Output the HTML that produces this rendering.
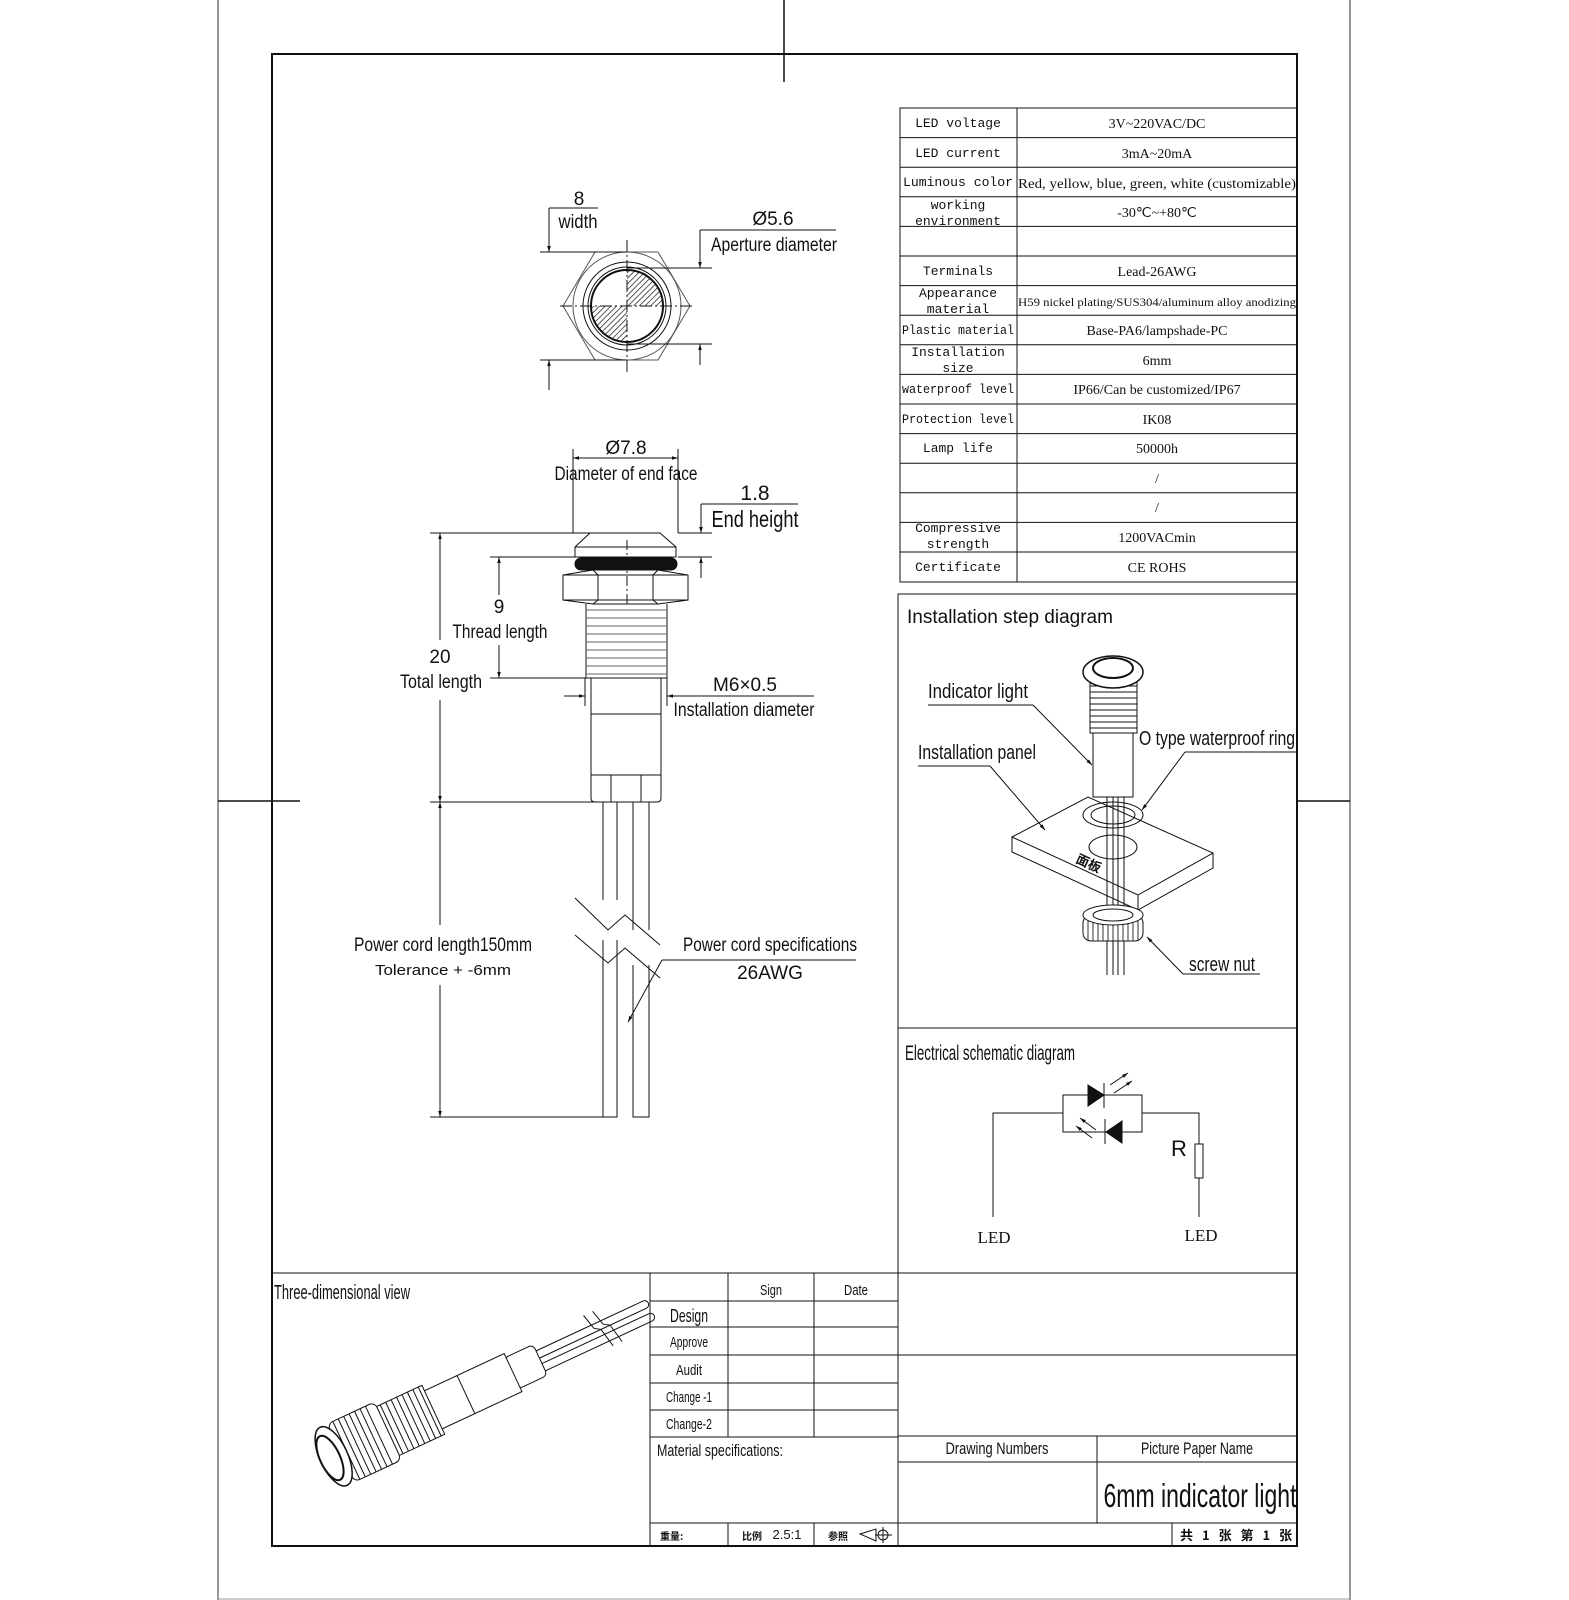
<!DOCTYPE html>
<html><head><meta charset="utf-8"><style>
html,body{margin:0;padding:0;background:#fff;}
svg{display:block}
text{font-family:"Liberation Sans",sans-serif;fill:#111}
.m text, text.m{font-family:"Liberation Mono",monospace;font-size:13px}
.s text, text.s{font-family:"Liberation Serif",serif;font-size:14px}
</style></head><body>
<svg width="1569" height="1600" viewBox="0 0 1569 1600" xmlns="http://www.w3.org/2000/svg">
<defs>
<pattern id="h" patternUnits="userSpaceOnUse" width="4" height="4" patternTransform="rotate(45)"><line x1="0" y1="0" x2="0" y2="4" stroke="#111" stroke-width="1.4"/></pattern>
<marker id="a" viewBox="0 0 10 10" refX="10" refY="5" markerWidth="10" markerHeight="6" orient="auto-start-reverse"><path d="M0,2 L10,5 L0,8z" fill="#111"/></marker>
</defs>
<g fill="none" stroke="#111" stroke-width="1">
<line x1="218" y1="0" x2="218" y2="1600" stroke="#777" stroke-width="1.5"/>
<line x1="1350" y1="0" x2="1350" y2="1600" stroke="#777" stroke-width="1.5"/>
<line x1="218" y1="1599" x2="1350" y2="1599" stroke="#999"/>
<rect x="272" y="54" width="1025" height="1492" stroke-width="2"/>
<line x1="784" y1="0" x2="784" y2="82" stroke-width="1.5"/>
<line x1="218" y1="801" x2="300" y2="801" stroke-width="1.5"/>
<line x1="1297" y1="801" x2="1350" y2="801" stroke-width="1.5"/>
<rect x="900" y="108" width="397" height="474"/>
<line x1="1017" y1="108" x2="1017" y2="582"/>
<line x1="900" y1="137.6" x2="1297" y2="137.6"/><line x1="900" y1="167.2" x2="1297" y2="167.2"/>
<line x1="900" y1="196.8" x2="1297" y2="196.8"/><line x1="900" y1="226.4" x2="1297" y2="226.4"/>
<line x1="900" y1="256" x2="1297" y2="256"/><line x1="900" y1="285.6" x2="1297" y2="285.6"/>
<line x1="900" y1="315.2" x2="1297" y2="315.2"/><line x1="900" y1="344.8" x2="1297" y2="344.8"/>
<line x1="900" y1="374.4" x2="1297" y2="374.4"/><line x1="900" y1="404" x2="1297" y2="404"/>
<line x1="900" y1="433.6" x2="1297" y2="433.6"/><line x1="900" y1="463.2" x2="1297" y2="463.2"/>
<line x1="900" y1="492.8" x2="1297" y2="492.8"/><line x1="900" y1="522.4" x2="1297" y2="522.4"/>
<line x1="900" y1="552" x2="1297" y2="552"/>
<rect x="898" y="594" width="399" height="434"/>
<rect x="898" y="1028" width="399" height="245"/>
<line x1="272" y1="1273" x2="1297" y2="1273"/>
<line x1="650" y1="1273" x2="650" y2="1546"/>
<line x1="898" y1="1273" x2="898" y2="1546"/>
<line x1="728" y1="1273" x2="728" y2="1437"/>
<line x1="814" y1="1273" x2="814" y2="1437"/>
<line x1="650" y1="1301" x2="898" y2="1301"/><line x1="650" y1="1327" x2="898" y2="1327"/>
<line x1="650" y1="1355" x2="898" y2="1355"/><line x1="650" y1="1383" x2="898" y2="1383"/>
<line x1="650" y1="1410" x2="898" y2="1410"/><line x1="650" y1="1437" x2="898" y2="1437"/>
<line x1="650" y1="1523" x2="1297" y2="1523"/>
<line x1="728" y1="1523" x2="728" y2="1546"/><line x1="814" y1="1523" x2="814" y2="1546"/>
<line x1="898" y1="1355" x2="1297" y2="1355"/>
<line x1="898" y1="1436" x2="1297" y2="1436"/>
<line x1="898" y1="1462" x2="1297" y2="1462"/>
<line x1="1097" y1="1436" x2="1097" y2="1523"/>
<line x1="1172" y1="1523" x2="1172" y2="1546"/>
</g>
<g class="m" text-anchor="middle">
<text x="958" y="127">LED voltage</text>
<text x="958" y="157">LED current</text>
<text x="958" y="186" textLength="110" lengthAdjust="spacingAndGlyphs">Luminous color</text>
<text x="958" y="209">working</text><text x="958" y="225">environment</text>
<text x="958" y="275">Terminals</text>
<text x="958" y="297">Appearance</text><text x="958" y="313">material</text>
<text x="958" y="334" textLength="112" lengthAdjust="spacingAndGlyphs">Plastic material</text>
<text x="958" y="356">Installation</text><text x="958" y="372">size</text>
<text x="958" y="393" textLength="112" lengthAdjust="spacingAndGlyphs">waterproof level</text>
<text x="958" y="423" textLength="112" lengthAdjust="spacingAndGlyphs">Protection level</text>
<text x="958" y="452">Lamp life</text>
<text x="958" y="532">Compressive</text><text x="958" y="548">strength</text>
<text x="958" y="571">Certificate</text>
</g>
<g class="s" text-anchor="middle">
<text x="1157" y="128">3V~220VAC/DC</text>
<text x="1157" y="158">3mA~20mA</text>
<text x="1157" y="188" textLength="278" lengthAdjust="spacingAndGlyphs" class="m">Red, yellow, blue, green, white (customizable)</text>
<text x="1157" y="217">-30℃~+80℃</text>
<text x="1157" y="276">Lead-26AWG</text>
<text x="1157" y="306" textLength="278" lengthAdjust="spacingAndGlyphs" style="font-size:12px">H59 nickel plating/SUS304/aluminum alloy anodizing</text>
<text x="1157" y="335" class="m">Base-PA6/lampshade-PC</text>
<text x="1157" y="365">6mm</text>
<text x="1157" y="394" class="m">IP66/Can be customized/IP67</text>
<text x="1157" y="424" class="m">IK08</text>
<text x="1157" y="453">50000h</text>
<text x="1157" y="483">/</text>
<text x="1157" y="512">/</text>
<text x="1157" y="542">1200VACmin</text>
<text x="1157" y="572" class="m">CE ROHS</text>
</g>

<g fill="none" stroke="#111" stroke-width="1">
<path d="M563,306 L595,252 L658,252 L690,306 L658,360 L595,360 Z" stroke="#555"/>
<circle cx="627" cy="306" r="54" stroke="#555"/>
<circle cx="627" cy="306" r="44"/>
<circle cx="627" cy="306" r="39"/>
<path d="M627,306 L627,270 A36,36 0 0 1 663,306 Z" fill="url(#h)" stroke="none"/>
<path d="M627,306 L591,306 A36,36 0 0 0 627,342 Z" fill="url(#h)" stroke="none"/>
<circle cx="627" cy="306" r="36" stroke-width="2"/>
<line x1="627" y1="240" x2="627" y2="375" stroke-dasharray="12,3,2,3"/>
<line x1="560" y1="306" x2="695" y2="306" stroke-dasharray="12,3,2,3"/>
<line x1="540" y1="252" x2="627" y2="252"/>
<line x1="540" y1="360" x2="627" y2="360"/>
<line x1="549" y1="208" x2="549" y2="252" marker-end="url(#a)"/>
<line x1="549" y1="390" x2="549" y2="360" marker-end="url(#a)"/>
<line x1="549" y1="208" x2="598" y2="208"/>
<line x1="627" y1="268" x2="712" y2="268"/>
<line x1="627" y1="344" x2="712" y2="344"/>
<line x1="700" y1="230" x2="700" y2="268" marker-end="url(#a)"/>
<line x1="700" y1="365" x2="700" y2="344" marker-end="url(#a)"/>
<line x1="700" y1="230" x2="836" y2="230"/>
</g>
<g text-anchor="middle" font-size="19">
<text x="579" y="205">8</text>
<text x="578" y="228" textLength="39" lengthAdjust="spacingAndGlyphs">width</text>
<text x="773" y="225">Ø5.6</text>
<text x="774" y="251" textLength="126" lengthAdjust="spacingAndGlyphs">Aperture diameter</text>
</g>

<g fill="none" stroke="#111" stroke-width="1">
<line x1="573" y1="449" x2="573" y2="533"/><line x1="678" y1="449" x2="678" y2="533"/>
<line x1="600" y1="458" x2="573" y2="458" marker-end="url(#a)"/>
<line x1="651" y1="458" x2="678" y2="458" marker-end="url(#a)"/>
<line x1="573" y1="458" x2="678" y2="458"/>
<path d="M590,533 L660,533 L676,547 L676,557 L575,557 L575,547 Z"/>
<line x1="575" y1="547" x2="676" y2="547"/>
<rect x="575" y="558" width="102" height="12" rx="6" fill="#111"/>
<path d="M563,575 L593,570 L658,570 L688,575 L688,600 L658,604 L593,604 L563,600 Z"/>
<path d="M593,570 L598,575 L598,600 L593,604 M658,570 L653,575 L653,600 L658,604 M563,575 L688,575 M563,600 L688,600"/>
<path d="M586,604 L586,678 L667,678 L667,604"/>
<path d="M586,610 h81 M586,618 h81 M586,626 h81 M586,634 h81 M586,642 h81 M586,650 h81 M586,658 h81 M586,666 h81 M586,674 h81" stroke="#666"/>
<path d="M591,678 L591,798 Q591,802 595,802 L657,802 Q661,802 661,798 L661,678"/>
<line x1="591" y1="714" x2="661" y2="714"/>
<line x1="591" y1="775" x2="661" y2="775"/>
<line x1="611" y1="775" x2="611" y2="802"/><line x1="641" y1="775" x2="641" y2="802"/>
<line x1="627" y1="540" x2="627" y2="605" stroke-dasharray="10,3,2,3"/>
<line x1="430" y1="533" x2="590" y2="533"/>
<line x1="430" y1="802" x2="595" y2="802"/>
<line x1="440" y1="580" x2="440" y2="533" marker-end="url(#a)"/>
<line x1="440" y1="760" x2="440" y2="802" marker-end="url(#a)"/>
<line x1="440" y1="533" x2="440" y2="640"/><line x1="440" y1="700" x2="440" y2="802"/>
<line x1="490" y1="557" x2="575" y2="557"/>
<line x1="490" y1="678" x2="590" y2="678"/>
<line x1="499" y1="595" x2="499" y2="557" marker-end="url(#a)"/>
<line x1="499" y1="645" x2="499" y2="678" marker-end="url(#a)"/>
<line x1="678" y1="533" x2="712" y2="533"/>
<line x1="678" y1="557" x2="712" y2="557"/>
<line x1="701" y1="504" x2="701" y2="533" marker-end="url(#a)"/>
<line x1="701" y1="578" x2="701" y2="557" marker-end="url(#a)"/>
<line x1="701" y1="504" x2="798" y2="504"/>
<line x1="585" y1="678" x2="585" y2="706"/><line x1="667" y1="678" x2="667" y2="706"/>
<line x1="564" y1="696" x2="585" y2="696" marker-end="url(#a)"/>
<line x1="688" y1="696" x2="667" y2="696" marker-end="url(#a)"/>
<line x1="667" y1="696" x2="814" y2="696"/>
<path d="M603,802 V900 M617,802 V900 M633,802 V930 M649,802 V930"/>
<path d="M603,940 V1117 H617 V940 M633,965 V1117 H649 V965"/>
<path d="M575,898 L608,930 L625,915 L660,945" />
<path d="M575,935 L608,963 L625,948 L660,978" />
<line x1="430" y1="1117" x2="603" y2="1117"/>
<line x1="440" y1="850" x2="440" y2="802" marker-end="url(#a)"/>
<line x1="440" y1="1070" x2="440" y2="1117" marker-end="url(#a)"/>
<line x1="440" y1="802" x2="440" y2="925"/><line x1="440" y1="985" x2="440" y2="1117"/>
<line x1="856" y1="960" x2="662" y2="960"/>
<line x1="662" y1="960" x2="628" y2="1022" marker-end="url(#a)"/>
</g>
<g text-anchor="middle" font-size="19">
<text x="626" y="454">Ø7.8</text>
<text x="626" y="480" textLength="143" lengthAdjust="spacingAndGlyphs">Diameter of end face</text>
<text x="755" y="500" font-size="21">1.8</text>
<text x="755" y="527" font-size="23" textLength="87" lengthAdjust="spacingAndGlyphs">End height</text>
<text x="499" y="613">9</text>
<text x="500" y="638" textLength="95" lengthAdjust="spacingAndGlyphs">Thread length</text>
<text x="440" y="663">20</text>
<text x="441" y="688" textLength="82" lengthAdjust="spacingAndGlyphs">Total length</text>
<text x="745" y="691">M6×0.5</text>
<text x="744" y="716" textLength="141" lengthAdjust="spacingAndGlyphs">Installation diameter</text>
<text x="443" y="951" textLength="178" lengthAdjust="spacingAndGlyphs">Power cord length150mm</text>
<text x="443" y="975" font-size="15" textLength="136" lengthAdjust="spacingAndGlyphs">Tolerance + -6mm</text>
<text x="770" y="951" textLength="174" lengthAdjust="spacingAndGlyphs">Power cord specifications</text>
<text x="770" y="979">26AWG</text>
</g>

<text x="907" y="623" font-size="19">Installation step diagram</text>
<g fill="none" stroke="#111" stroke-width="1">
<path d="M1012,837 L1088,797 L1213,853 L1138,895 Z" fill="#fff"/>
<path d="M1012,837 V852 L1138,910 V895 M1138,910 L1213,868 V853"/>
<ellipse cx="1113" cy="847" rx="24" ry="12"/>
<ellipse cx="1113" cy="815" rx="30" ry="13"/>
<ellipse cx="1113" cy="815" rx="22" ry="9"/>
<path d="M1107,797 V975 M1113,797 V975 M1118,797 V975 M1124,797 V975"/>
<rect x="1083" y="915" width="60" height="26" rx="8" fill="#fff"/>
<path d="M1088,918 V940 M1093,918 V941 M1098,918 V941 M1103,918 V941 M1108,918 V941 M1113,918 V941 M1118,918 V941 M1123,918 V941 M1128,918 V941 M1133,918 V941 M1138,918 V940" stroke="#333"/>
<ellipse cx="1113" cy="915" rx="30" ry="10" fill="#fff"/>
<ellipse cx="1113" cy="915" rx="20" ry="6"/>
<path d="M1107,941 V975 M1113,941 V975 M1118,941 V975 M1124,941 V975"/>
<rect x="1093" y="733" width="40" height="64" fill="#fff"/>
<rect x="1090" y="680" width="47" height="53" fill="#fff"/>
<path d="M1090,686 h47 M1090,692 h47 M1090,698 h47 M1090,704 h47 M1090,710 h47 M1090,716 h47 M1090,722 h47 M1090,728 h47"/>
<ellipse cx="1113" cy="672" rx="30" ry="16" fill="#fff" stroke-width="1.5"/>
<ellipse cx="1113" cy="668" rx="20" ry="10" stroke-width="2"/>
<line x1="928" y1="705" x2="1033" y2="705"/>
<line x1="1033" y1="705" x2="1092" y2="765" marker-end="url(#a)"/>
<line x1="918" y1="766" x2="990" y2="766"/>
<line x1="990" y1="766" x2="1045" y2="830" marker-end="url(#a)"/>
<line x1="1297" y1="752" x2="1185" y2="752"/>
<line x1="1185" y1="752" x2="1142" y2="810" marker-end="url(#a)"/>
<line x1="1260" y1="974" x2="1183" y2="974"/>
<line x1="1183" y1="974" x2="1147" y2="937" marker-end="url(#a)"/>
</g>
<text x="1075" y="862" font-size="13" font-weight="bold" transform="rotate(25 1075 862)" style="font-family:'Noto Sans CJK SC',sans-serif">面板</text>
<g font-size="20">
<text x="928" y="698" textLength="100" lengthAdjust="spacingAndGlyphs">Indicator light</text>
<text x="918" y="759" textLength="118" lengthAdjust="spacingAndGlyphs">Installation panel</text>
<text x="1139" y="745" textLength="156" lengthAdjust="spacingAndGlyphs">O type waterproof ring</text>
<text x="1189" y="971" textLength="66" lengthAdjust="spacingAndGlyphs">screw nut</text>
</g>

<text x="905" y="1060" font-size="21" textLength="170" lengthAdjust="spacingAndGlyphs">Electrical schematic diagram</text>
<g fill="none" stroke="#111" stroke-width="1">
<rect x="1063" y="1095" width="79" height="37"/>
<path d="M1063,1113 H993 V1217 M1142,1113 H1199 V1144 M1199,1178 V1217"/>
<rect x="1195" y="1144" width="8" height="34"/>
<path d="M1088,1085 L1104,1095 L1088,1106 Z" fill="#111"/>
<line x1="1104" y1="1083" x2="1104" y2="1108"/>
<path d="M1122,1121 L1106,1132 L1122,1143 Z" fill="#111"/>
<line x1="1105" y1="1119" x2="1105" y2="1144"/>
<line x1="1110" y1="1085" x2="1128" y2="1073" marker-end="url(#a)"/>
<line x1="1114" y1="1093" x2="1132" y2="1081" marker-end="url(#a)"/>
<line x1="1096" y1="1130" x2="1080" y2="1118" marker-end="url(#a)"/>
<line x1="1092" y1="1138" x2="1076" y2="1126" marker-end="url(#a)"/>
</g>
<text x="1179" y="1156" font-size="22" text-anchor="middle">R</text>
<text x="994" y="1243" class="s" style="font-size:17px" text-anchor="middle">LED</text>
<text x="1201" y="1241" class="s" style="font-size:17px" text-anchor="middle">LED</text>

<text x="274" y="1299" font-size="20" textLength="136" lengthAdjust="spacingAndGlyphs">Three-dimensional view</text>
<g fill="none" stroke="#111" stroke-width="1" transform="translate(330,1458) rotate(-25)">
<path d="M230,-10 H350 M230,-2 H350 M230,4 H350 M230,12 H350"/>
<path d="M350,-10 a4,4 0 0 1 0,8 M350,4 a4,4 0 0 1 0,8"/>
<rect x="200" y="-17" width="32" height="34" rx="5" fill="#fff"/>
<rect x="112" y="-21" width="90" height="42" fill="#fff"/>
<line x1="150" y1="-21" x2="150" y2="21"/>
<rect x="62" y="-27" width="52" height="54" fill="#fff"/>
<path d="M68,-27 V27 M74,-27 V27 M80,-27 V27 M86,-27 V27 M92,-27 V27 M98,-27 V27 M104,-27 V27 M110,-27 V27"/>
<rect x="12" y="-32" width="52" height="64" rx="6" fill="#fff"/>
<path d="M18,-32 V32 M24,-32 V32 M30,-32 V32 M36,-32 V32 M42,-32 V32 M48,-32 V32 M54,-32 V32"/>
<ellipse cx="4" cy="0" rx="14" ry="32" fill="#fff" stroke-width="1.5"/>
<ellipse cx="0" cy="0" rx="10" ry="24" stroke-width="2"/>
<path d="M290,-22 L294,-6 L300,-2 L304,18 M300,-22 L304,-6 L310,-2 L314,18"/>
</g>

<g text-anchor="middle" font-size="15">
<text x="771" y="1295" textLength="22" lengthAdjust="spacingAndGlyphs">Sign</text>
<text x="856" y="1295" textLength="24" lengthAdjust="spacingAndGlyphs">Date</text>
<text x="689" y="1322" font-size="18" textLength="38" lengthAdjust="spacingAndGlyphs">Design</text>
<text x="689" y="1347" textLength="38" lengthAdjust="spacingAndGlyphs">Approve</text>
<text x="689" y="1375" textLength="26" lengthAdjust="spacingAndGlyphs">Audit</text>
<text x="689" y="1402" textLength="46" lengthAdjust="spacingAndGlyphs">Change -1</text>
<text x="689" y="1429" textLength="46" lengthAdjust="spacingAndGlyphs">Change-2</text>
<text x="720" y="1456" font-size="17" textLength="126" lengthAdjust="spacingAndGlyphs">Material specifications:</text>
<text x="997" y="1454" font-size="17" textLength="103" lengthAdjust="spacingAndGlyphs">Drawing Numbers</text>
<text x="1197" y="1454" font-size="17" textLength="112" lengthAdjust="spacingAndGlyphs">Picture Paper Name</text>
<text x="1200" y="1507" font-size="33" textLength="193" lengthAdjust="spacingAndGlyphs">6mm indicator light</text>
<text x="787" y="1539" font-size="13">2.5:1</text>
</g>
<g font-size="10" font-weight="bold">
<text x="660" y="1540" style="font-family:'Noto Sans CJK SC',sans-serif">重量:</text>
<text x="742" y="1540" style="font-family:'Noto Sans CJK SC',sans-serif">比例</text>
<text x="828" y="1540" style="font-family:'Noto Sans CJK SC',sans-serif">参照</text>
<text x="1180" y="1540" font-size="13" word-spacing="6" style="font-family:'Noto Sans CJK SC',sans-serif">共 1 张 第 1 张</text>
</g>
<g fill="none" stroke="#111" stroke-width="1">
<path d="M860,1534 L876,1529 V1541 Z"/><circle cx="883" cy="1535" r="5"/><path d="M875,1535 H892 M883,1527 V1543"/>
</g>
</svg>
</body></html>
